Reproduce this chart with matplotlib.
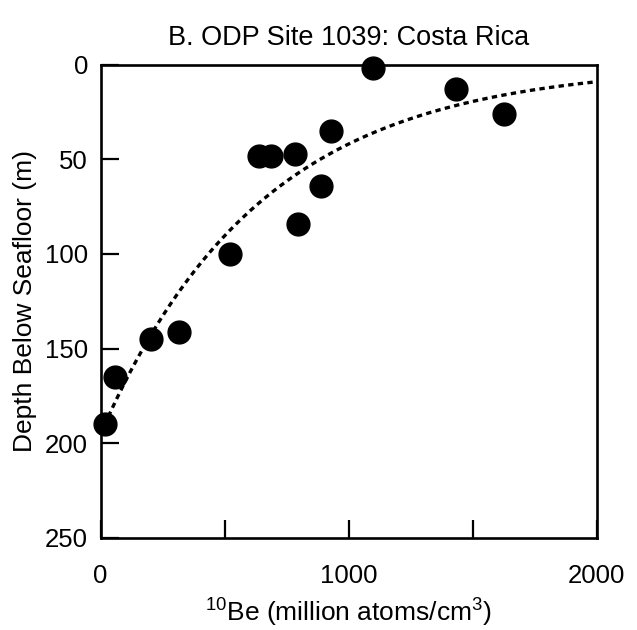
import matplotlib
matplotlib.use("Agg")
import matplotlib.pyplot as plt
import numpy as np

plt.rcParams['font.family'] = ['Liberation Sans', 'DejaVu Sans']
plt.rcParams['mathtext.fontset'] = 'custom'
plt.rcParams['mathtext.rm'] = 'Liberation Sans'
plt.rcParams['mathtext.it'] = 'Liberation Sans:italic'

# 10Be concentration (million atoms/cm3) and depth below seafloor (m)
be10 = [1096, 1431, 1626, 929, 640, 688, 785, 887, 796, 520, 315, 203, 56, 17]
depth = [2, 13, 26, 35, 48, 48, 47, 64, 84, 100, 141, 145, 165, 190]

# exponential trend line: depth = a * exp(-Be / b)
fit_a = 195.0
fit_b = 650.0
fit_start = 15
fit_end = 2000

x_ticks = [0, 500, 1000, 1500, 2000]
x_labels = ['0', '', '1000', '', '2000']
y_ticks = [0, 50, 100, 150, 200, 250]

fig = plt.figure(figsize=(6.37, 6.30), dpi=100)
ax = fig.add_axes([0.158, 0.1463, 0.779, 0.751])

fx = np.linspace(fit_start, fit_end, 300)
ax.plot(fx, fit_a * np.exp(-fx / fit_b), color='black', lw=2.4,
        linestyle=(0, (1.6, 1.3)), zorder=2)
ax.scatter(be10, depth, s=270, color='black', zorder=3, clip_on=False)

ax.set_xlim(0, 2000)
ax.set_ylim(250, 0)
ax.set_xticks(x_ticks)
ax.set_xticklabels(x_labels)
ax.set_yticks(y_ticks)

for sp in ax.spines.values():
    sp.set_linewidth(1.9)

ax.tick_params(axis='x', direction='in', length=13, width=1.6, pad=19, labelsize=18.5)
ax.tick_params(axis='y', direction='in', length=13, width=1.6, pad=9, labelsize=18.5)

ax.set_title('B. ODP Site 1039: Costa Rica', fontsize=19.5, pad=14)
ax.set_xlabel(r'$^{10}$Be (million atoms/cm$^3$)', fontsize=19, labelpad=6)
ax.set_ylabel('Depth Below Seafloor (m)', fontsize=19, labelpad=6)

fig.savefig('out.png', dpi=100)
